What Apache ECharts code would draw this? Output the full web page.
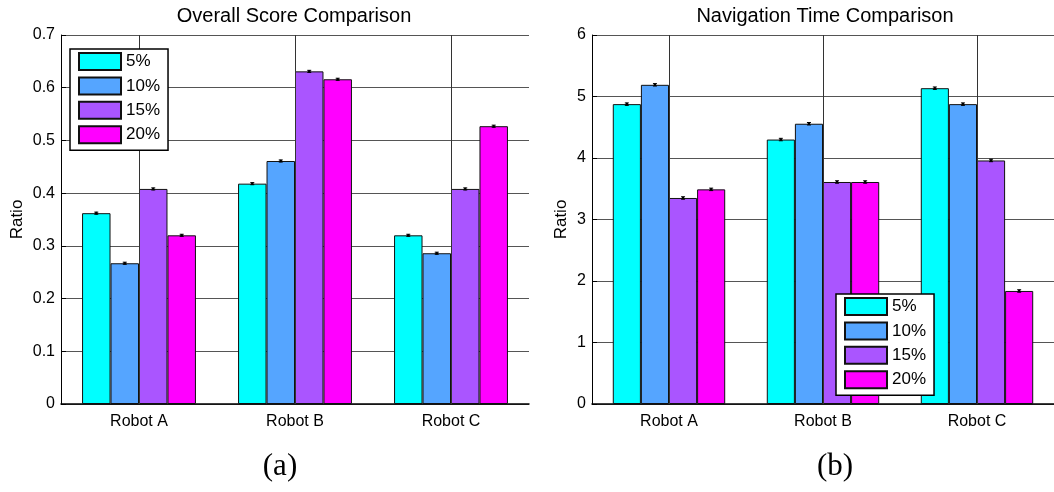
<!DOCTYPE html>
<html>
<head>
<meta charset="utf-8">
<script src="https://cdn.jsdelivr.net/npm/echarts@6/dist/echarts.min.js"></script>
<style>html,body{margin:0;padding:0;background:#fff;}#c{width:1054px;height:492px;}</style>
</head>
<body>
<div id="c"></div>
<script>
const categories = ['Robot A', 'Robot B', 'Robot C'];
const seriesNames = ['5%', '10%', '15%', '20%'];
const colors = ['#00FFFF', '#55A5FF', '#AA55FF', '#FF00FF'];

// (a) Overall Score Comparison
const scoreP5  = [0.362, 0.418, 0.320];
const scoreP10 = [0.267, 0.461, 0.286];
const scoreP15 = [0.408, 0.631, 0.408];
const scoreP20 = [0.320, 0.616, 0.527];
const scoreErr = [0.002, 0.002, 0.002];
const scoreTicks = { min: 0, max: 0.7, interval: 0.1 };

// (b) Navigation Time Comparison
const timeP5  = [4.876, 4.30, 5.135];
const timeP10 = [5.19, 4.557, 4.876];
const timeP15 = [3.35, 3.61, 3.96];
const timeP20 = [3.49, 3.61, 1.838];
const timeErr = [0.02, 0.02, 0.02];
const timeTicks = { min: 0, max: 6, interval: 1 };

const FONT = "'Liberation Sans', Arial, sans-serif";
const CAT_GAP = 0.27;

const chart = echarts.init(document.getElementById('c'), null, { renderer: 'canvas' });

function barSeries(values, idx, gi) {
  return {
    type: 'bar', name: seriesNames[idx], xAxisIndex: gi, yAxisIndex: gi,
    data: values, barGap: '0%', barCategoryGap: (CAT_GAP * 100) + '%',
    itemStyle: { color: colors[idx], borderColor: '#111', borderWidth: 1 },
    z: 2, silent: true
  };
}

function errSeries(groups, errs, gi) {
  const data = [];
  groups.forEach((vals, s) => vals.forEach((v, c) => data.push([c, v, s, errs[c]])));
  return {
    type: 'custom', xAxisIndex: gi, yAxisIndex: gi, z: 5, silent: true,
    encode: { x: 0, y: 1 },
    data: data,
    renderItem: function (params, api) {
      const cat = api.value(0), v = api.value(1), s = api.value(2), e = api.value(3);
      const c = api.coord([cat, v]);
      const band = api.size([1, 0])[0];
      const bw = band * (1 - CAT_GAP) / 4;
      const x = c[0] - 2 * bw + (s + 0.5) * bw;
      const t = api.coord([cat, v + e])[1], b = api.coord([cat, v - e])[1];
      const st = { stroke: '#000', lineWidth: 1 };
      return { type: 'group', children: [
        { type: 'line', shape: { x1: x, y1: t, x2: x, y2: b }, style: st },
        { type: 'line', shape: { x1: x - 2, y1: t, x2: x + 2, y2: t }, style: st },
        { type: 'line', shape: { x1: x - 2, y1: b, x2: x + 2, y2: b }, style: st },
        { type: 'circle', shape: { cx: x, cy: c[1], r: 1.3 }, style: { fill: '#000' } }
      ]};
    }
  };
}

function vGridSeries(gi) {
  return {
    type: 'line', xAxisIndex: gi, yAxisIndex: gi, data: [], z: 1, silent: true,
    markLine: {
      silent: true, symbol: ['none', 'none'], label: { show: false },
      lineStyle: { color: '#333', width: 1, type: 'solid' },
      data: categories.map(c => ({ xAxis: c }))
    }
  };
}

function yAxis(gi, ticks, nameGap) {
  return {
    gridIndex: gi, type: 'value', min: ticks.min, max: ticks.max, interval: ticks.interval,
    name: 'Ratio', nameLocation: 'middle', nameGap: nameGap,
    nameTextStyle: { fontFamily: FONT, fontSize: 17, color: '#000' },
    axisLine: { show: true, lineStyle: { color: '#000', width: 1 } },
    axisTick: { show: true, inside: true, length: 5, lineStyle: { color: '#000' } },
    axisLabel: { fontFamily: FONT, fontSize: 16, color: '#000', margin: 6 },
    splitLine: { show: true, lineStyle: { color: '#555', width: 1 } }
  };
}

function xAxis(gi) {
  return {
    gridIndex: gi, type: 'category', data: categories,
    axisLine: { show: true, lineStyle: { color: '#000', width: 1.5 } },
    axisTick: { show: false },
    axisLabel: { fontFamily: FONT, fontSize: 16, color: '#000', margin: 10 },
    splitLine: { show: false }
  };
}

function legend(left, top) {
  return {
    data: seriesNames, orient: 'vertical', left: left, top: top,
    icon: 'rect', itemWidth: 42, itemHeight: 17, itemGap: 5.4,
    padding: [3, 8, 6, 8],
    backgroundColor: '#fff', borderColor: '#000', borderWidth: 1.5,
    textStyle: { fontFamily: FONT, fontSize: 17, color: '#000' },
    selectedMode: false, z: 10
  };
}

const option = {
  animation: false,
  backgroundColor: '#fff',
  grid: [
    { left: 61, top: 35, width: 468, height: 369 },
    { left: 592, top: 35, width: 467, height: 369 }
  ],
  xAxis: [xAxis(0), xAxis(1)],
  yAxis: [yAxis(0, scoreTicks, 35), yAxis(1, timeTicks, 22)],
  legend: [legend(70, 49), legend(836, 294)],
  graphic: [
    { type: 'text', x: 294, y: 16, style: { text: 'Overall Score Comparison', font: '20px ' + FONT, fill: '#000', textAlign: 'center', textVerticalAlign: 'middle' } },
    { type: 'text', x: 825, y: 16, style: { text: 'Navigation Time Comparison', font: '20px ' + FONT, fill: '#000', textAlign: 'center', textVerticalAlign: 'middle' } },
    { type: 'text', x: 280, y: 467, style: { text: '(a)', font: "31px 'Liberation Serif', 'Times New Roman', serif", fill: '#000', textAlign: 'center', textVerticalAlign: 'middle' } },
    { type: 'text', x: 835, y: 467, style: { text: '(b)', font: "31px 'Liberation Serif', 'Times New Roman', serif", fill: '#000', textAlign: 'center', textVerticalAlign: 'middle' } }
  ],
  series: [
    vGridSeries(0), vGridSeries(1),
    barSeries(scoreP5, 0, 0), barSeries(scoreP10, 1, 0), barSeries(scoreP15, 2, 0), barSeries(scoreP20, 3, 0),
    barSeries(timeP5, 0, 1), barSeries(timeP10, 1, 1), barSeries(timeP15, 2, 1), barSeries(timeP20, 3, 1),
    errSeries([scoreP5, scoreP10, scoreP15, scoreP20], scoreErr, 0),
    errSeries([timeP5, timeP10, timeP15, timeP20], timeErr, 1)
  ]
};
chart.setOption(option);
</script>
</body>
</html>
